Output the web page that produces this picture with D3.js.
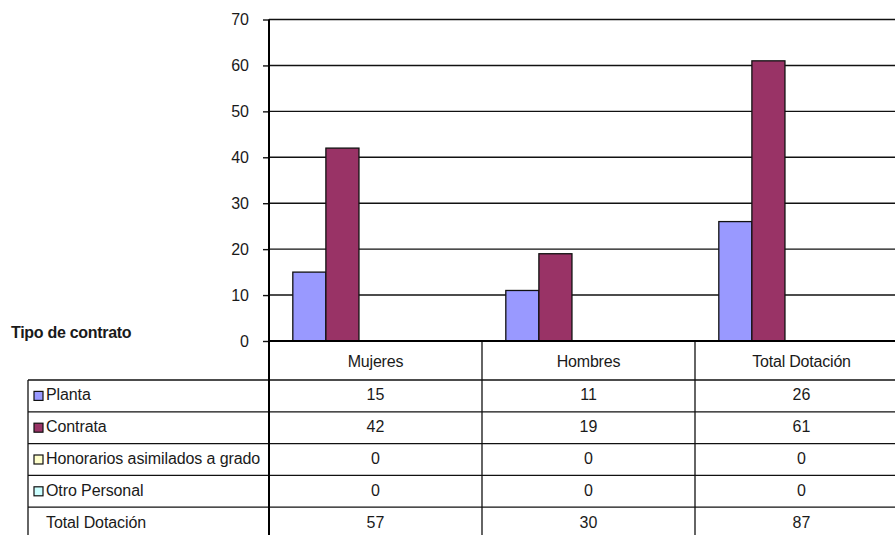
<!DOCTYPE html>
<html>
<head>
    <title>Tipo de contrato</title>
    <script src="https://d3js.org/d3.v7.min.js"></script>
    <style>
        body { margin: 0; background: #fff; }
        text { font-family: "Liberation Sans", Arial, sans-serif; fill: #1a1a1a; }
    </style>
</head>
<body>
    <svg width="895" height="535"></svg>

    <script>
    // data
    const categories = ["Mujeres", "Hombres", "Total Dotación"];
    const series = ["Planta", "Contrata", "Honorarios asimilados a grado", "Otro Personal"];
    const colors = ["#9999FF", "#993366", "#FFFFCC", "#CCFFFF"];
    const planta = [15, 11, 26];
    const contrata = [42, 19, 61];
    const honorarios = [0, 0, 0];
    const otro = [0, 0, 0];
    const totals = [57, 30, 87];
    const yTicks = [0, 10, 20, 30, 40, 50, 60, 70];

    const values = [planta, contrata, honorarios, otro];

    const svg = d3.select("svg");
    const axisX = 269, plotTop = 19.5, plotBottom = 341, catW = 213;

    const x0 = d3.scaleBand()
        .domain(categories)
        .range([axisX, axisX + catW * categories.length]);

    // 5 slots per group (the chart leaves the last one empty)
    const x1 = d3.scaleBand()
        .domain([...series, "Total Dotación"])
        .range([0, x0.bandwidth()])
        .paddingOuter(0.72);

    const y = d3.scaleLinear().domain([0, 70]).range([plotBottom, plotTop]);

    // gridlines
    svg.append("g").selectAll("line")
        .data(yTicks.slice(1))
        .enter().append("line")
        .attr("x1", axisX).attr("x2", 895)
        .attr("y1", d => y(d)).attr("y2", d => y(d))
        .style("stroke", "#111")
        .style("stroke-width", 1.4);

    // y axis
    const yAxis = d3.axisLeft(y).tickValues(yTicks).tickSize(6).tickPadding(14).tickFormat(d3.format("d"));
    const ga = svg.append("g").attr("transform", `translate(${axisX},0)`).call(yAxis);
    ga.select(".domain").remove();
    ga.selectAll(".tick line").style("stroke", "#111").style("stroke-width", 1.4);
    ga.selectAll(".tick text")
        .style("font-size", "16px")
        .style("font-family", "Liberation Sans, Arial, sans-serif")
        .style("fill", "#1a1a1a");

    // bars
    series.forEach((s, i) => {
        svg.append("g").selectAll("rect")
            .data(categories.map((c, j) => ({ c: c, v: values[i][j] })))
            .enter().append("rect")
            .filter(d => d.v > 0)
            .attr("x", d => x0(d.c) + x1(s))
            .attr("width", x1.bandwidth())
            .attr("y", d => y(d.v))
            .attr("height", d => y(0) - y(d.v))
            .style("fill", colors[i])
            .style("stroke", "#111")
            .style("stroke-width", 1.3);
    });

    // table
    const rows = [...series, "Total Dotación"];
    const rowTotals = [...values, totals];
    const tableLeft = 28, headerBottom = 380, rowH = 31.8;
    const yRow = d3.scaleBand().domain(rows).range([headerBottom, headerBottom + rowH * rows.length]);

    const tbl = svg.append("g");
    // horizontal lines
    tbl.selectAll("line.h")
        .data(rows)
        .enter().append("line")
        .attr("x1", tableLeft).attr("x2", 895)
        .attr("y1", d => yRow(d)).attr("y2", d => yRow(d))
        .style("stroke", "#111").style("stroke-width", 1.3);
    // vertical lines
    tbl.append("line")
        .attr("x1", tableLeft).attr("x2", tableLeft)
        .attr("y1", headerBottom).attr("y2", 535)
        .style("stroke", "#111").style("stroke-width", 1.3);
    tbl.selectAll("line.v")
        .data(categories.slice(1))
        .enter().append("line")
        .attr("x1", d => x0(d)).attr("x2", d => x0(d))
        .attr("y1", plotBottom).attr("y2", 535)
        .style("stroke", "#111").style("stroke-width", 1.3);

    // header labels
    tbl.selectAll("text.head")
        .data(categories)
        .enter().append("text")
        .attr("x", d => x0(d) + x0.bandwidth() / 2)
        .attr("y", 367)
        .attr("text-anchor", "middle")
        .style("font-size", "16px")
        .style("letter-spacing", "-0.2px")
        .text(d => d);

    // row labels with swatches
    rows.forEach((r, i) => {
        const cy = yRow(r) + rowH / 2;
        if (i < series.length) {
            tbl.append("rect")
                .attr("x", 34).attr("y", cy - 4.5)
                .attr("width", 9).attr("height", 9)
                .style("fill", colors[i])
                .style("stroke", "#111").style("stroke-width", 1.2);
        }
        tbl.append("text")
            .attr("x", 46).attr("y", cy + 4.5)
            .style("font-size", "16px")
            .style("letter-spacing", "-0.1px")
            .text(r);
        tbl.selectAll(null)
            .data(categories)
            .enter().append("text")
            .attr("x", d => x0(d) + x0.bandwidth() / 2)
            .attr("y", cy + 4.5)
            .attr("text-anchor", "middle")
            .style("font-size", "16px")
            .text((d, j) => rowTotals[i][j]);
    });

    // axis line and baseline on top
    svg.append("line")
        .attr("x1", axisX).attr("x2", axisX)
        .attr("y1", plotTop).attr("y2", 535)
        .style("stroke", "#000").style("stroke-width", 2);
    svg.append("line")
        .attr("x1", axisX).attr("x2", 895)
        .attr("y1", plotBottom).attr("y2", plotBottom)
        .style("stroke", "#000").style("stroke-width", 2);

    svg.append("text")
        .attr("x", 11).attr("y", 338)
        .style("font-size", "16px")
        .style("font-weight", "bold")
        .style("letter-spacing", "-0.3px")
        .text("Tipo de contrato");
    </script>
</body>
</html>
